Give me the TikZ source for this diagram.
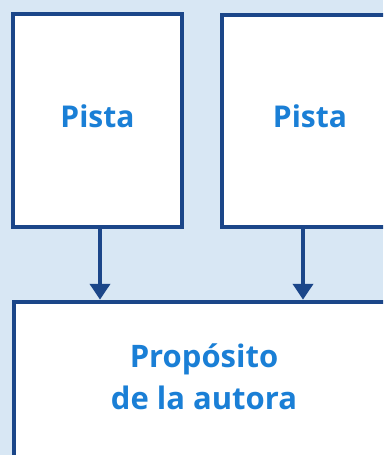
\documentclass[tikz,border=0pt]{standalone}
\usepackage{fontspec}
\setmainfont{Open Sans}
\usetikzlibrary{arrows.meta}
\definecolor{bgblue}{HTML}{D8E7F4}
\definecolor{navy}{HTML}{1B4689}
\definecolor{txtblue}{HTML}{1A7FD6}
\tikzset{
  box/.style={draw=navy, line width=4.5pt, fill=white, inner sep=0pt,
    text=txtblue, text height=22pt, text depth=9pt,
    font=\fontsize{30}{42}\selectfont\bfseries},
  txt/.style={text=txtblue, align=center, inner sep=0pt,
    font=\fontsize{31}{42}\selectfont\bfseries},
  arr/.style={draw=navy, line width=4.5pt, -{Triangle[width=20pt,length=16pt]}}
}
\begin{document}
\begin{tikzpicture}[x=1pt,y=-1pt]
\fill[bgblue] (0,0) rectangle (383,455);
\useasboundingbox (0,0) rectangle (383,455);
\clip (0,0) rectangle (383,455);
\node[box, minimum width=169pt, minimum height=213pt] (p1) at (97.5,120.5) {Pista};
\node[box, minimum width=176pt, minimum height=212pt] (p2) at (310,121) {Pista};
\node[box, minimum width=376pt, minimum height=170pt] (p3) at (202,387) {};
\node[txt, anchor=base] (t3) at (204,409) {Propósito\\de la autora};
\draw[arr] ([xshift=2.5pt]p1.south) -- ([xshift=2.5pt]p1.south |- p3.north);
\draw[arr] ([xshift=-7pt]p2.south) -- ([xshift=-7pt]p2.south |- p3.north);
\end{tikzpicture}
\end{document}
